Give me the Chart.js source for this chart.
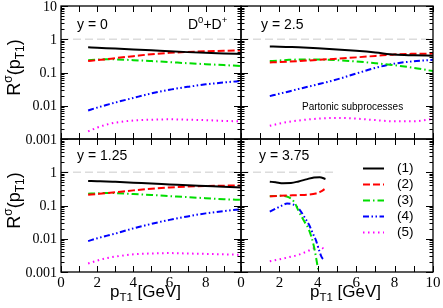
<!DOCTYPE html>
<html>
<head>
<meta charset="utf-8">
<script src="https://cdn.jsdelivr.net/npm/chart.js@4.4.0/dist/chart.umd.min.js"></script>
<style>
    body { margin: 0; background: #fff; }
    #wrap { position: relative; width: 443px; height: 308px; }
    #wrap canvas { position: absolute; left: 0; top: 0; }
</style>
</head>
<body>
<div id="wrap">
    <canvas id="c1" width="443" height="308"></canvas>
    <canvas id="c2" width="443" height="308"></canvas>
    <canvas id="c3" width="443" height="308"></canvas>
    <canvas id="c4" width="443" height="308"></canvas>
</div>
<script>
// Series labels (partonic subprocesses)
const seriesLabels = ['(1)', '(2)', '(3)', '(4)', '(5)'];

// Tick labels
const yTicksTop = [10, 1, 0.1, 0.01, 0.001];
const yTicksBottom = [1, 0.1, 0.01, 0.001];
const xTicksLeft = [0, 2, 4, 6, 8];
const xTicksRight = [0, 2, 4, 6, 8, 10];

// pT grid for the full-range panels
const ptGrid = [1.5, 2, 2.5, 3, 4, 5, 6, 7, 8, 9, 10];

// y = 0
const y0_s1 = [0.57, 0.555, 0.54, 0.525, 0.495, 0.465, 0.435, 0.41, 0.39, 0.375, 0.36];
const y0_s2 = [0.22, 0.235, 0.25, 0.27, 0.31, 0.355, 0.39, 0.415, 0.435, 0.45, 0.46];
const y0_s3 = [0.235, 0.245, 0.25, 0.248, 0.235, 0.22, 0.205, 0.19, 0.178, 0.167, 0.157];
const y0_s4 = [0.0072, 0.0088, 0.0105, 0.0125, 0.0172, 0.0235, 0.0305, 0.037, 0.044, 0.05, 0.056];
const y0_s5 = [0.0017, 0.0022, 0.0027, 0.0031, 0.0036, 0.0038, 0.0039, 0.0038, 0.0037, 0.0035, 0.0034];

// y = 2.5
const y25_s1 = [0.61, 0.6, 0.585, 0.57, 0.535, 0.495, 0.45, 0.4, 0.345, 0.33, 0.32];
const y25_s2 = [0.2, 0.205, 0.212, 0.22, 0.24, 0.26, 0.285, 0.315, 0.35, 0.365, 0.37];
const y25_s3 = [0.22, 0.23, 0.24, 0.245, 0.245, 0.235, 0.215, 0.19, 0.165, 0.138, 0.11];
const y25_s4 = [0.0195, 0.023, 0.027, 0.032, 0.044, 0.062, 0.093, 0.138, 0.185, 0.218, 0.24];
const y25_s5 = [0.0025, 0.0029, 0.0033, 0.0036, 0.0041, 0.0043, 0.0041, 0.0037, 0.0034, 0.0034, 0.004];

// y = 1.25
const y125_s1 = [0.55, 0.54, 0.53, 0.515, 0.485, 0.455, 0.43, 0.405, 0.385, 0.365, 0.35];
const y125_s2 = [0.21, 0.222, 0.235, 0.25, 0.285, 0.32, 0.35, 0.37, 0.385, 0.395, 0.4];
const y125_s3 = [0.225, 0.233, 0.238, 0.236, 0.222, 0.207, 0.192, 0.178, 0.166, 0.155, 0.147];
const y125_s4 = [0.0085, 0.0103, 0.0122, 0.0143, 0.0205, 0.028, 0.037, 0.047, 0.058, 0.068, 0.077];
const y125_s5 = [0.0018, 0.0022, 0.0026, 0.0029, 0.0034, 0.0036, 0.0037, 0.0036, 0.0035, 0.0034, 0.0033];

// y = 3.75 (each curve has its own pT range)
const y375_pt1 = [1.5, 1.8, 2.2, 2.6, 3.0, 3.4, 3.8, 4.1, 4.4];
const y375_s1 = [0.52, 0.5, 0.47, 0.475, 0.53, 0.61, 0.7, 0.71, 0.63];
const y375_pt2 = [1.5, 2, 2.5, 3, 3.5, 3.9, 4.2, 4.35];
const y375_s2 = [0.19, 0.195, 0.2, 0.205, 0.212, 0.23, 0.27, 0.31];
const y375_pt3 = [1.5, 2, 2.5, 2.8, 3.0, 3.3, 3.55, 3.8, 4.03, 4.15];
const y375_s3 = [0.19, 0.195, 0.175, 0.12, 0.068, 0.033, 0.018, 0.0058, 0.0011, 0.0005];
const y375_pt4 = [1.5, 1.8, 2.1, 2.4, 2.7, 3.0, 3.3, 3.55, 3.75, 3.9, 4.05, 4.2, 4.35];
const y375_s4 = [0.065, 0.08, 0.098, 0.114, 0.108, 0.082, 0.045, 0.026, 0.014, 0.0091, 0.0048, 0.0028, 0.0022];
const y375_pt5 = [1.5, 2, 2.5, 3, 3.5, 3.8, 4.1, 4.35];
const y375_s5 = [0.0021, 0.0024, 0.0028, 0.0033, 0.0043, 0.0052, 0.0058, 0.0048];

// Line styles
const seriesColors = ['#000000', '#ff0000', '#00dd00', '#0000ff', '#ff00ff'];
const seriesDashes = [[], [7, 3], [7, 3, 1.5, 3], [6, 2.5, 1.5, 2.5, 1.5, 2.5], [1.5, 3.5]];

const SANS = "'Liberation Sans', Arial, sans-serif";
const SERIF = "'Liberation Serif', 'Times New Roman', serif";

// Draw a run of text pieces (for super/subscripts), returns total width
function drawRuns(ctx, runs, x, y, measureOnly) {
    let cx = x;
    runs.forEach(r => {
        ctx.font = r.s + 'px ' + SANS;
        if (!measureOnly) ctx.fillText(r.t, cx, y + (r.dy || 0));
        cx += ctx.measureText(r.t).width;
    });
    return cx - x;
}

// Frame, inward ticks, labels and panel texts
const panelPlugin = {
    id: 'panel',
    afterDatasetsDraw(chart, args, opts) {
        const ctx = chart.ctx;
        const a = chart.chartArea;
        const xs = chart.scales.x;
        const ys = chart.scales.y;
        ctx.save();
        ctx.strokeStyle = '#000';
        ctx.fillStyle = '#000';
        ctx.setLineDash([]);
        ctx.lineWidth = 1;

        const seg = (x1, y1, x2, y2) => {
            ctx.beginPath();
            ctx.moveTo(x1, y1);
            ctx.lineTo(x2, y2);
            ctx.stroke();
        };

        // x ticks every 1 GeV
        for (let v = 0; v <= xs.max + 1e-6; v += 1) {
            const px = Math.round(xs.getPixelForValue(v)) + 0.5;
            seg(px, a.bottom, px, a.bottom - 6);
            seg(px, a.top, px, a.top + 6);
        }
        // y ticks (log, minors 2..9)
        for (let e = -3; e <= 1; e++) {
            for (let m = 1; m <= 9; m++) {
                const v = m * Math.pow(10, e);
                if (v > 10.0001) break;
                const py = Math.round(ys.getPixelForValue(v)) + 0.5;
                const len = m === 1 ? 7 : 3.5;
                seg(a.left, py, a.left + len, py);
                seg(a.right, py, a.right - len, py);
            }
        }
        // frame
        ctx.lineWidth = 1.3;
        ctx.strokeRect(a.left, a.top, a.right - a.left, a.bottom - a.top);

        // tick labels
        ctx.font = '14px ' + SERIF;
        if (opts.yTicks) {
            ctx.textAlign = 'right';
            ctx.textBaseline = 'middle';
            opts.yTicks.forEach(v => {
                ctx.fillText(String(v), a.left - 4, ys.getPixelForValue(v) + 1);
            });
        }
        if (opts.xTicks) {
            ctx.font = '15px ' + SERIF;
            ctx.textAlign = 'center';
            ctx.textBaseline = 'alphabetic';
            opts.xTicks.forEach(v => {
                ctx.fillText(String(v), xs.getPixelForValue(v), a.bottom + 15);
            });
        }

        ctx.textAlign = 'left';
        ctx.textBaseline = 'alphabetic';
        // panel texts
        (opts.texts || []).forEach(t => drawRuns(ctx, t.runs, t.x, t.y));

        // y-axis title
        if (opts.yTitle) {
            const runs = [
                {t: 'R', s: 18}, {t: 'σ', s: 12, dy: -8}, {t: '(p', s: 18},
                {t: 'T1', s: 12, dy: 4}, {t: ')', s: 18}
            ];
            const w = drawRuns(ctx, runs, 0, 0, true);
            ctx.save();
            ctx.translate(20, (a.top + a.bottom) / 2 - 5);
            ctx.rotate(-Math.PI / 2);
            drawRuns(ctx, runs, -w / 2, 0);
            ctx.restore();
        }
        // x-axis title
        if (opts.xTitle) {
            const runs = [{t: 'p', s: 17}, {t: 'T1', s: 11.5, dy: 4}, {t: ' [GeV]', s: 17}];
            drawRuns(ctx, runs, opts.xTitle, 297);
        }

        // legend
        if (opts.legend) {
            const sets = chart.data.datasets.filter(d => d.label);
            sets.forEach((d, i) => {
                const ly = Math.round(168 + i * 15.9) + 0.5;
                ctx.strokeStyle = d.borderColor;
                ctx.lineWidth = d.borderWidth;
                ctx.setLineDash(d.borderDash);
                seg(363, ly, 384, ly);
                ctx.setLineDash([]);
                ctx.font = '13.5px ' + SANS;
                ctx.textBaseline = 'middle';
                ctx.fillText(d.label, 397, ly);
            });
        }
        ctx.restore();
    }
};

function makePanel(id, pad, xMax, seriesX, seriesY, refEnd, deco) {
    const datasets = [{
        data: [{x: 0, y: 1}, {x: refEnd, y: 1}],
        borderColor: '#dcdcdc',
        borderDash: [8, 4],
        borderWidth: 1.3,
        pointRadius: 0,
        order: 10,
        clip: 0
    }];
    seriesY.forEach((vals, i) => {
        const xs = Array.isArray(seriesX[0]) ? seriesX[i] : seriesX;
        datasets.push({
            label: seriesLabels[i],
            data: vals.map((v, j) => ({x: xs[j], y: v})),
            borderColor: seriesColors[i],
            borderDash: seriesDashes[i],
            borderWidth: 2,
            pointRadius: 0,
            cubicInterpolationMode: 'monotone',
            clip: 0
        });
    });
    return new Chart(document.getElementById(id), {
        type: 'line',
        data: { datasets: datasets },
        options: {
            responsive: false,
            animation: false,
            layout: { padding: pad },
            plugins: {
                legend: { display: false },
                tooltip: { enabled: false },
                panel: deco
            },
            scales: {
                x: { type: 'linear', min: 0, max: xMax, display: false },
                y: { type: 'logarithmic', min: 0.001, max: 10, display: false }
            }
        },
        plugins: [panelPlugin]
    });
}

// y = 0 (top left)
makePanel('c1', {left: 61, top: 6, right: 202, bottom: 169}, 9.95, ptGrid,
    [y0_s1, y0_s2, y0_s3, y0_s4, y0_s5], 10, {
        yTicks: yTicksTop,
        yTitle: true,
        texts: [
            {x: 77, y: 29, runs: [{t: 'y = 0', s: 14}]},
            {x: 188, y: 29, runs: [{t: 'D', s: 14}, {t: '0', s: 9.5, dy: -6}, {t: '+D', s: 14}, {t: '+', s: 9.5, dy: -6}]}
        ]
    });

// y = 2.5 (top right)
makePanel('c2', {left: 241, top: 6, right: 10, bottom: 169}, 10, ptGrid,
    [y25_s1, y25_s2, y25_s3, y25_s4, y25_s5], 10, {
        texts: [
            {x: 261, y: 28.5, runs: [{t: 'y = 2.5', s: 14}]},
            {x: 302, y: 109.5, runs: [{t: 'Partonic subprocesses', s: 10}]}
        ]
    });

// y = 1.25 (bottom left)
makePanel('c3', {left: 61, top: 139, right: 202, bottom: 36}, 9.95, ptGrid,
    [y125_s1, y125_s2, y125_s3, y125_s4, y125_s5], 10, {
        yTicks: yTicksBottom,
        xTicks: xTicksLeft,
        yTitle: true,
        xTitle: 110,
        texts: [{x: 77, y: 160, runs: [{t: 'y = 1.25', s: 14}]}]
    });

// y = 3.75 (bottom right)
makePanel('c4', {left: 241, top: 139, right: 10, bottom: 36}, 10,
    [y375_pt1, y375_pt2, y375_pt3, y375_pt4, y375_pt5],
    [y375_s1, y375_s2, y375_s3, y375_s4, y375_s5], 5, {
        xTicks: xTicksRight,
        xTitle: 310,
        legend: true,
        texts: [{x: 259, y: 160, runs: [{t: 'y = 3.75', s: 14}]}]
    });
</script>
</body>
</html>
